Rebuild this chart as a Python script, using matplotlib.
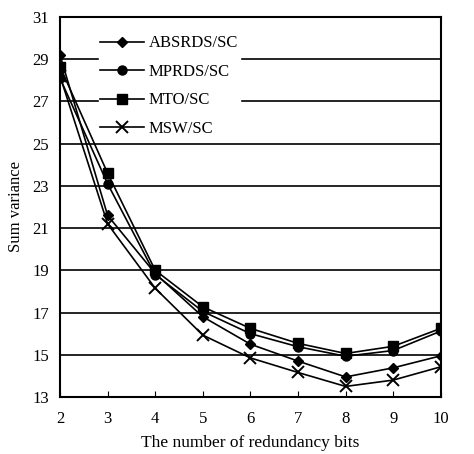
import matplotlib
matplotlib.use("Agg")
import matplotlib.pyplot as plt

plt.rcParams['font.family'] = ['Liberation Serif', 'DejaVu Serif']

bits = [2, 3, 4, 5, 6, 7, 8, 9, 10]
absrds = [29.2, 21.6, 18.85, 16.8, 15.5, 14.7, 13.95, 14.38, 14.95]
mprds = [28.1, 23.1, 18.8, 17.05, 16.0, 15.38, 14.93, 15.2, 16.12]
mto = [28.65, 23.6, 19.0, 17.27, 16.25, 15.54, 15.06, 15.4, 16.25]
msw = [28.2, 21.2, 18.15, 15.93, 14.85, 14.16, 13.5, 13.8, 14.43]
labels = ['ABSRDS/SC', 'MPRDS/SC', 'MTO/SC', 'MSW/SC']
yticks = [13, 15, 17, 19, 21, 23, 25, 27, 29, 31]

fig = plt.figure(figsize=(4.74, 4.54), dpi=100)
ax = fig.add_axes([0.1266, 0.1256, 0.8034, 0.837])

ax.plot(bits, absrds, color='black', lw=1.2, marker='D', ms=5.5, label=labels[0])
ax.plot(bits, mprds, color='black', lw=1.2, marker='o', ms=6.5, label=labels[1])
ax.plot(bits, mto, color='black', lw=1.2, marker='s', ms=6.5, label=labels[2])
ax.plot(bits, msw, color='black', lw=1.2, marker='x', ms=8, mew=1.4, label=labels[3])

ax.set_xlim(2, 10)
ax.set_ylim(13, 31)
ax.set_yticks(yticks)
ax.set_xticks(bits)
ax.yaxis.grid(True, color='black', lw=1.2)
ax.set_axisbelow(True)
ax.tick_params(axis='x', direction='in', length=4, labelsize=12, pad=10, color='black')
ax.tick_params(axis='y', length=0, labelsize=12, pad=8)
for s in ax.spines.values():
    s.set_linewidth(1.5)
    s.set_color('black')

ax.set_xlabel('The number of redundancy bits', fontsize=12.5, labelpad=6)
ax.set_ylabel('Sum variance', fontsize=12, labelpad=6)

leg = ax.legend(loc='upper left', bbox_to_anchor=(0.08, 0.978), frameon=True,
                fontsize=12, handlelength=2.6, labelspacing=0.75, borderpad=0.1,
                handletextpad=0.3)
leg.get_frame().set_edgecolor('white')
leg.get_frame().set_facecolor('white')
leg.get_frame().set_alpha(1)
leg.get_frame().set_boxstyle('square', pad=0)

fig.savefig('out.png', dpi=100)
